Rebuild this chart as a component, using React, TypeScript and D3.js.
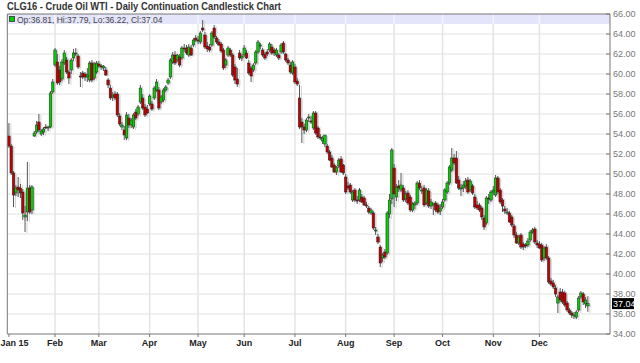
import React from 'react';
import * as d3 from 'd3';

type OHLC = [number, number, number, number];

// [open, high, low, close] per trading day, grouped by month (2015)
const jan: OHLC[] = [
  [53.8, 55.1, 52.6, 52.8], [52.8, 53.0, 49.9, 50.1], [50.1, 50.3, 46.7, 47.9], [48.1, 48.9, 47.8, 48.6],
  [48.7, 49.7, 47.7, 48.4], [48.6, 49.0, 47.6, 48.1], [48.2, 48.5, 45.4, 46.1], [45.7, 46.8, 44.2, 45.9],
  [46.2, 51.2, 45.3, 48.6], [48.6, 48.9, 46.0, 46.2], [46.4, 48.9, 46.0, 48.7], [53.8, 54.3, 53.7, 54.1],
  [54.2, 55.3, 54.0, 54.9], [55.2, 56.0, 54.2, 54.4], [54.0, 54.5, 53.8, 54.3], [54.2, 54.7, 53.9, 54.5],
  [54.7, 55.0, 54.5, 54.6], [54.6, 54.8, 54.3, 54.7], [54.7, 58.3, 54.6, 58.1], [58.2, 59.5, 58.0, 59.2],
];
const feb: OHLC[] = [
  [60.9, 62.6, 60.7, 62.4], [61.2, 62.0, 58.9, 59.1], [60.4, 60.8, 58.9, 59.2], [59.5, 61.5, 59.3, 61.2],
  [61.1, 62.4, 60.9, 62.1], [61.4, 61.7, 60.0, 60.2], [60.2, 60.4, 59.0, 59.6], [60.4, 61.6, 60.0, 61.4],
  [61.6, 62.5, 61.3, 62.1], [62.1, 62.6, 61.8, 62.1], [61.8, 62.0, 60.5, 60.7], [59.8, 60.2, 58.7, 59.7],
  [60.1, 60.3, 59.5, 59.7], [60.0, 60.2, 59.3, 59.7], [59.7, 60.6, 59.2, 59.9], [59.4, 61.3, 59.2, 61.1],
  [61.1, 61.4, 59.2, 59.4], [59.6, 61.2, 59.4, 61.0], [60.2, 61.3, 60.0, 61.1],
];
const mar: OHLC[] = [
  [61.0, 61.3, 60.6, 60.8], [60.8, 61.0, 60.4, 60.7], [60.6, 60.9, 60.3, 60.8], [60.4, 60.7, 59.8, 59.9],
  [59.4, 59.6, 58.6, 58.9], [58.6, 58.9, 57.4, 57.6], [57.7, 58.2, 57.3, 57.9], [58.0, 58.3, 57.4, 57.6],
  [58.0, 58.2, 55.7, 55.9], [55.8, 56.1, 54.8, 55.0], [54.7, 55.2, 54.4, 54.9], [54.4, 54.8, 53.4, 53.9],
  [53.6, 56.2, 53.4, 55.9], [55.6, 56.0, 54.6, 54.9], [54.9, 55.6, 54.6, 55.4], [54.7, 56.1, 54.5, 55.9],
  [56.2, 56.5, 55.4, 55.6], [56.0, 56.9, 55.8, 56.7], [57.2, 58.9, 57.0, 58.6], [57.6, 58.0, 56.4, 56.6],
  [56.7, 57.0, 55.7, 55.9], [56.5, 56.9, 56.0, 56.1],
];
const apr: OHLC[] = [
  [57.0, 58.0, 56.8, 57.8], [57.0, 57.3, 56.3, 56.5], [57.6, 58.8, 57.4, 58.6], [58.4, 59.5, 58.2, 59.2],
  [58.4, 58.7, 56.4, 56.6], [57.2, 57.9, 57.0, 57.7], [57.4, 58.6, 57.2, 58.4], [58.4, 58.9, 58.2, 58.7],
  [59.1, 59.6, 58.9, 59.4], [59.7, 61.6, 59.5, 61.4], [61.2, 62.2, 61.0, 61.9], [61.9, 62.3, 60.9, 61.1],
  [61.4, 62.0, 61.2, 61.9], [61.7, 62.0, 60.7, 60.9], [61.6, 62.8, 61.4, 62.6], [62.6, 63.0, 62.2, 62.5],
  [62.6, 62.9, 61.9, 62.1], [61.9, 63.0, 61.7, 62.7], [62.6, 62.9, 61.8, 61.9], [62.9, 63.6, 62.7, 63.4],
  [63.6, 63.9, 63.2, 63.4],
];
const may: OHLC[] = [
  [63.4, 63.8, 63.0, 63.3], [63.2, 64.3, 63.0, 64.1], [64.6, 65.4, 64.2, 64.4], [63.9, 64.2, 62.5, 62.7],
  [62.8, 63.2, 62.2, 62.5], [62.7, 63.0, 62.2, 62.4], [62.9, 64.3, 62.7, 64.1], [64.6, 64.9, 63.5, 63.7],
  [63.6, 63.8, 63.0, 63.2], [63.2, 63.5, 62.8, 62.9], [63.0, 63.2, 62.1, 62.3], [62.4, 62.6, 60.4, 60.6],
  [60.9, 61.6, 60.6, 61.4], [61.9, 62.8, 61.7, 62.6], [62.4, 62.6, 61.7, 61.9], [61.9, 62.1, 59.7, 59.9],
  [60.7, 61.0, 59.0, 59.4], [59.5, 60.6, 58.7, 59.0], [62.1, 62.4, 61.4, 61.6], [61.6, 62.0, 61.3, 61.8],
];
const jun: OHLC[] = [
  [61.9, 62.9, 61.7, 62.6], [62.1, 62.4, 61.5, 61.6], [61.1, 61.4, 59.9, 60.1], [60.6, 60.8, 59.2, 59.8],
  [60.4, 61.1, 60.2, 60.9], [61.1, 62.4, 60.9, 62.2], [62.2, 63.4, 62.0, 63.2], [62.9, 63.1, 62.5, 62.9],
  [62.4, 62.6, 61.7, 61.9], [62.0, 62.2, 61.4, 61.6], [62.2, 62.5, 61.8, 62.0], [62.4, 63.2, 62.2, 63.0],
  [62.7, 63.0, 61.9, 62.1], [62.4, 62.6, 61.8, 62.1], [61.9, 62.6, 61.7, 62.4], [61.9, 62.1, 61.4, 61.6],
  [62.2, 63.1, 62.0, 62.9], [63.1, 63.3, 62.0, 62.2], [62.0, 62.1, 61.2, 61.4], [61.4, 61.6, 60.9, 61.1],
  [60.9, 61.2, 60.0, 60.2], [60.1, 61.4, 59.9, 61.2],
];
const jul: OHLC[] = [
  [60.7, 61.0, 59.0, 59.2], [59.3, 59.6, 58.8, 59.0], [57.6, 58.9, 54.5, 54.7], [55.2, 55.6, 53.1, 54.7],
  [54.7, 55.0, 54.0, 54.4], [54.4, 55.6, 54.2, 55.4], [55.6, 56.0, 55.2, 55.7], [55.3, 55.8, 55.0, 55.2],
  [54.6, 56.3, 54.4, 56.1], [56.1, 56.3, 53.9, 54.1], [54.6, 54.8, 53.5, 53.7], [53.7, 54.0, 53.4, 53.6],
  [53.3, 53.8, 53.0, 53.6], [53.0, 53.9, 52.7, 53.9], [52.8, 53.0, 52.0, 52.2], [52.2, 52.4, 51.3, 51.4],
  [51.6, 51.9, 50.6, 50.7], [50.9, 51.1, 50.1, 50.2], [50.2, 50.8, 49.9, 50.7], [50.8, 51.6, 50.6, 51.4],
  [51.5, 51.8, 50.1, 50.2], [50.9, 51.0, 49.9, 50.1],
];
const aug: OHLC[] = [
  [49.7, 50.0, 48.0, 48.2], [48.8, 49.2, 48.4, 48.6], [48.9, 49.1, 48.0, 48.2], [47.4, 48.4, 47.2, 48.2],
  [48.4, 48.6, 47.2, 47.4], [47.4, 47.8, 47.0, 47.3], [47.4, 48.6, 47.2, 48.4], [47.7, 48.0, 47.1, 47.2],
  [47.6, 47.8, 46.8, 46.9], [46.9, 47.2, 46.6, 46.8], [46.6, 46.8, 46.0, 46.2], [46.1, 46.6, 45.9, 46.4],
  [46.1, 46.3, 44.4, 44.6], [44.4, 44.7, 43.9, 44.4], [43.7, 44.0, 43.0, 43.2], [42.7, 42.9, 40.7, 41.1],
  [41.6, 42.1, 41.2, 41.9], [42.2, 42.5, 41.5, 41.7], [42.1, 46.3, 41.9, 46.1], [46.0, 48.0, 45.6, 47.4],
  [47.5, 52.6, 47.0, 52.4],
];
const sep: OHLC[] = [
  [50.6, 51.0, 46.7, 48.0], [47.7, 49.0, 47.3, 48.7], [48.8, 49.4, 48.2, 48.6], [48.4, 50.1, 48.2, 48.9],
  [48.6, 48.9, 47.2, 47.4], [47.5, 48.3, 47.2, 48.0], [48.1, 48.4, 46.9, 47.1], [47.7, 47.9, 46.2, 46.4],
  [46.4, 47.2, 46.2, 47.0], [46.9, 47.3, 46.5, 47.1], [47.1, 49.3, 46.9, 49.1], [49.1, 49.4, 48.4, 48.6],
  [48.4, 48.8, 48.0, 48.4], [48.6, 48.9, 46.7, 46.9], [47.1, 48.6, 46.9, 48.4], [48.3, 48.6, 46.6, 46.8],
  [46.8, 47.5, 46.5, 47.2], [46.9, 47.1, 45.9, 47.1], [47.1, 47.3, 46.2, 46.4], [46.9, 47.1, 46.0, 46.2],
  [46.3, 47.0, 45.9, 46.6],
];
const oct: OHLC[] = [
  [46.7, 47.5, 46.5, 47.2], [47.4, 48.6, 47.2, 48.4], [48.2, 49.3, 48.0, 49.1], [49.1, 50.9, 48.9, 50.7],
  [50.4, 52.6, 50.2, 51.6], [51.6, 52.0, 50.9, 51.1], [51.6, 52.3, 49.0, 49.1], [49.4, 49.8, 48.4, 48.6],
  [48.6, 49.0, 47.8, 48.6], [48.6, 49.3, 48.2, 48.9], [48.8, 49.6, 48.5, 49.3], [49.4, 49.7, 48.0, 48.2],
  [48.4, 49.5, 48.2, 49.3], [48.8, 49.0, 47.9, 48.1], [47.7, 48.0, 46.5, 46.7], [46.9, 47.3, 46.4, 46.6],
  [46.9, 47.1, 46.2, 46.4], [46.6, 46.8, 45.4, 45.7], [45.6, 45.9, 44.4, 44.7], [45.1, 47.8, 44.9, 47.6],
  [47.6, 48.0, 47.0, 47.5], [47.4, 48.4, 47.2, 48.2],
];
const nov: OHLC[] = [
  [48.2, 48.8, 47.9, 48.4], [47.9, 49.9, 47.7, 49.6], [49.6, 49.8, 48.0, 48.2], [48.4, 48.6, 47.0, 47.2],
  [47.4, 47.6, 46.2, 46.8], [46.5, 46.8, 46.0, 46.3], [46.2, 46.6, 45.9, 46.2], [46.1, 46.3, 45.1, 45.2],
  [45.7, 45.9, 44.7, 44.9], [44.8, 45.0, 43.6, 43.9], [43.9, 44.2, 43.0, 43.1], [43.1, 43.9, 42.9, 43.7],
  [43.9, 44.1, 42.5, 42.7], [43.0, 43.2, 42.4, 42.7], [42.9, 43.1, 42.6, 42.8], [42.9, 43.6, 42.7, 43.3],
  [43.4, 44.4, 43.2, 44.2], [44.2, 44.6, 44.0, 44.4], [44.5, 44.7, 43.0, 43.2], [43.1, 43.4, 42.6, 42.9],
];
const dec: OHLC[] = [
  [43.0, 43.3, 42.5, 42.6], [42.9, 43.1, 41.2, 41.4], [41.6, 42.8, 41.3, 42.6], [42.7, 43.0, 41.4, 41.6],
  [41.6, 41.8, 39.0, 39.2], [39.3, 39.6, 38.8, 39.0], [39.1, 39.4, 38.5, 38.7], [38.6, 38.9, 37.7, 38.0],
  [37.1, 37.9, 36.1, 37.7], [38.2, 38.6, 37.2, 37.4], [38.2, 38.5, 37.0, 37.2], [38.1, 38.3, 36.7, 36.9],
  [37.1, 37.3, 36.2, 36.4], [36.4, 36.6, 35.9, 36.1], [36.1, 36.3, 35.6, 35.9], [35.9, 36.2, 35.5, 35.9],
  [35.7, 36.4, 35.5, 36.2], [36.4, 37.8, 36.2, 37.6], [37.7, 38.3, 37.5, 38.1], [38.0, 38.2, 36.9, 37.2],
  [37.0, 37.7, 36.6, 37.4], [36.81, 37.79, 36.22, 37.04],
];

const months: OHLC[][] = [jan, feb, mar, apr, may, jun, jul, aug, sep, oct, nov, dec];
const monthLabels = ['Jan 15', 'Feb', 'Mar', 'Apr', 'May', 'Jun', 'Jul', 'Aug', 'Sep', 'Oct', 'Nov', 'Dec'];
const priceTicks = [34, 36, 38, 40, 42, 44, 46, 48, 50, 52, 54, 56, 58, 60, 62, 64, 66];
const title = 'CLG16 - Crude Oil WTI - Daily Continuation Candlestick Chart';

const FONT = "'Liberation Sans', Arial, sans-serif";

export default function App() {
  const candles = months.flat();
  const monthStarts: number[] = [];
  let acc = 0;
  for (const m of months) {
    monthStarts.push(acc);
    acc += m.length;
  }

  const L = 7.3, R = 610, T = 14, B = 334;
  const x = d3.scaleLinear().domain([-0.7, 260.6]).range([L, R]);
  const y = d3.scaleLinear().domain([34, 66]).range([B, T]);

  const last = candles[candles.length - 1];
  const fmt = d3.format('.2f');
  const legend = `Op:${fmt(last[0])}, Hi:${fmt(last[1])}, Lo:${fmt(last[2])}, Cl:${fmt(last[3])}`;

  const bw = 2.5;

  return (
    <svg width={640} height={363} style={{ display: 'block', position: 'absolute', left: 0, top: 0 }}>
      <style>{`body{margin:0;overflow:hidden;}`}</style>
      <rect x={0} y={0} width={640} height={363} fill="#ffffff" />
      <text x={7} y={10} fontFamily={FONT} fontSize={10} fontWeight="bold" fill="#333"
        textLength={274} lengthAdjust="spacingAndGlyphs">{title}</text>

      {/* header band */}
      <rect x={L} y={T} width={R - L} height={10} fill="#e4e4fa" />

      {/* horizontal gridlines */}
      {priceTicks.filter(v => v > 34 && v < 66).map(v => (
        <line key={'h' + v} x1={L} x2={R} y1={y(v)} y2={y(v)} stroke="#e2e2e2" strokeWidth={1} />
      ))}
      {/* vertical gridlines */}
      {monthStarts.slice(1).map((i, k) => (
        <line key={'v' + k} x1={x(i)} x2={x(i)} y1={T + 10} y2={B} stroke="#e4e4e4" strokeWidth={1.5} />
      ))}
      {monthStarts.slice(1).map((i, k) => (
        <line key={'vb' + k} x1={x(i)} x2={x(i)} y1={T} y2={T + 10} stroke="#f4f4ff" strokeWidth={1.5} />
      ))}

      {/* legend */}
      <rect x={9.5} y={16.5} width={5} height={5} fill="#00cc00" stroke="#333" strokeWidth={0.8} />
      <text x={17} y={22.5} fontFamily={FONT} fontSize={8.5} fill="#444">{legend}</text>

      {/* candle shadows */}
      {candles.map((c, i) => {
        const cx = x(i) + 2;
        const top = y(Math.max(c[0], c[3])) + 1;
        const bot = y(Math.min(c[0], c[3])) + 1;
        return (
          <g key={'s' + i}>
            <line x1={cx} x2={cx} y1={y(c[1]) + 1} y2={y(c[2]) + 1} stroke="#d6d6d6" strokeWidth={1} />
            <rect x={cx - bw / 2} y={top} width={bw} height={Math.max(1, bot - top)} fill="#d6d6d6" />
          </g>
        );
      })}
      {/* candles */}
      {candles.map((c, i) => {
        const cx = x(i);
        const up = c[3] >= c[0];
        const top = y(Math.max(c[0], c[3]));
        const bot = y(Math.min(c[0], c[3]));
        return (
          <g key={'c' + i}>
            <line x1={cx} x2={cx} y1={y(c[1])} y2={y(c[2])} stroke="#555" strokeWidth={1} />
            <rect x={cx - bw / 2} y={top} width={bw} height={Math.max(1, bot - top)}
              fill={up ? '#00d000' : '#c00000'} stroke="#222" strokeWidth={0.5} />
          </g>
        );
      })}

      {/* frame */}
      <line x1={L} x2={R} y1={T} y2={T} stroke="#777" strokeWidth={1} />
      <line x1={L} x2={L} y1={T} y2={B} stroke="#777" strokeWidth={1} />
      <line x1={R} x2={R} y1={T} y2={B} stroke="#777" strokeWidth={1} />
      <line x1={L} x2={R} y1={B} y2={B} stroke="#777" strokeWidth={1} />

      {/* right axis */}
      {priceTicks.map(v => (
        <g key={'t' + v}>
          <line x1={R - 4} x2={R} y1={y(v)} y2={y(v)} stroke="#777" strokeWidth={1} />
          <text x={R + 3} y={y(v)} dy="0.35em" fontFamily={FONT} fontSize={9} fill="#777">{fmt(v)}</text>
        </g>
      ))}
      {/* last price */}
      <rect x={R + 2} y={y(last[3]) - 5.5} width={22} height={11} fill="#000" />
      <text x={R + 3} y={y(last[3])} dy="0.35em" fontFamily={FONT} fontSize={9} fill="#fff">{fmt(last[3])}</text>

      {/* bottom axis */}
      {monthStarts.map((i, k) => (
        <g key={'m' + k}>
          <line x1={x(i)} x2={x(i)} y1={B} y2={B + 3} stroke="#777" strokeWidth={1} />
          <text x={k === 0 ? 0.5 : x(i)} y={346} textAnchor={k === 0 ? 'start' : 'middle'}
            fontFamily={FONT} fontSize={9} fontWeight="bold" fill="#222">
            {monthLabels[k]}
          </text>
        </g>
      ))}
    </svg>
  );
}
